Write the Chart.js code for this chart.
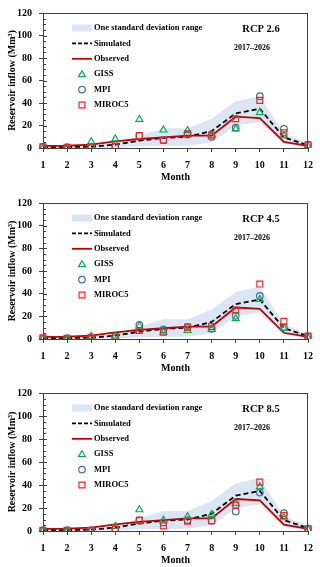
<!DOCTYPE html>
<html>
<head>
<meta charset="utf-8">
<script src="https://cdn.jsdelivr.net/npm/chart.js@4/dist/chart.umd.min.js"></script>
<style>
  body { margin: 0; background: #fff; width: 320px; height: 567px; position: relative; overflow: hidden; }
  canvas { position: absolute; left: 0; }
</style>
</head>
<body>
<canvas id="c1" width="320" height="190" style="top:0"></canvas>
<canvas id="c2" width="320" height="190" style="top:190px"></canvas>
<canvas id="c3" width="320" height="187" style="top:380px"></canvas>
<script>
// months on the x axis
const months = ['1', '2', '3', '4', '5', '6', '7', '8', '9', '10', '11', '12'];

// historical reference (same in every panel)
const bandUpper = [1.5, 1.5, 2, 4, 11, 17.5, 17.5, 26, 41.5, 46, 13, 4.5];
const bandLower = [0, 0, 0, 0.5, 1.5, 2, 2, 5, 20, 23, 4, 1];
const simulated = [0.8, 0.8, 1.2, 3, 6.5, 9, 10, 15, 30.8, 34.8, 9.5, 2.5];
const observed = [1.8, 2, 3, 5.8, 8, 9.5, 11, 11, 27.8, 26.6, 5.5, 1.8];

// RCP 2.6
const giss26 = [0, 0, 5.5, 8, 25.5, 16, 15.5, 11.5, 17, 31.5, 11, 1.5];
const mpi26 = [1, 0.5, 0.5, 1, 11, 7, 12, 10, 18, 46, 17, 3];
const miroc26 = [1, 0.5, 1, 1.7, 11, 7, 12.5, 11.5, 26, 42.3, 13.5, 2.5];

// RCP 4.5
const giss45 = [0, 0, 2.3, 2.5, 11.5, 6, 7.5, 8.5, 18, 35, 9.5, 1];
const mpi45 = [0.5, 0.5, 1, 2.5, 12.5, 8.5, 10.5, 9, 20.5, 38, 10.5, 2];
const miroc45 = [1, 0.5, 1.5, 2, 7.5, 6, 10.5, 11, 25.5, 48.5, 15.5, 2.5];

// RCP 8.5
const giss85 = [0, 0, 0.5, 4, 18.5, 9.5, 12.5, 14.5, 24, 38.5, 12, 1.5];
const mpi85 = [0.5, 0.5, 0.5, 1.5, 9, 7.5, 9.5, 9, 17, 33.5, 15.5, 2];
const miroc85 = [0.5, 0.5, 0.5, 1.5, 9.5, 4.5, 8.5, 9, 22.5, 42.5, 13.5, 2];

const scenarioNames = ['RCP 2.6', 'RCP 4.5', 'RCP 8.5'];
const periodText = '2017\u20132026';
const legendLabels = ['One standard deviation range', 'Simulated', 'Observed', 'GISS', 'MPI', 'MIROC5'];

const SERIF = '"Liberation Serif", "Times New Roman", serif';
const BAND = '#dae6f4';
const GREEN = '#00b050';
const BLUE = '#41719c';
const RED = '#ff2020';
const DARKRED = '#c00000';
const AXIS = '#404040';

Chart.defaults.font.family = SERIF;
Chart.defaults.font.weight = 'bold';
Chart.defaults.font.size = 10;
Chart.defaults.color = '#000';

function marker(ctx, style, x, y, r) {
  ctx.beginPath();
  if (style === 'triangle') {
    ctx.moveTo(x, y - r);
    ctx.lineTo(x + r * 0.866, y + r / 2);
    ctx.lineTo(x - r * 0.866, y + r / 2);
    ctx.closePath();
  } else if (style === 'circle') {
    ctx.arc(x, y, r, 0, Math.PI * 2);
  } else {
    const s = r * Math.SQRT1_2;
    ctx.rect(x - s, y - s, 2 * s, 2 * s);
  }
  ctx.stroke();
}

// frame, inner ticks, legend and the scenario labels
const decorations = {
  id: 'decorations',
  afterDraw(chart, args, opts) {
    const { ctx, chartArea: a, scales: { y } } = chart;
    ctx.save();
    ctx.strokeStyle = AXIS;
    ctx.lineWidth = 1;
    ctx.beginPath();
    ctx.moveTo(a.left, a.top + 0.5); ctx.lineTo(a.right, a.top + 0.5);
    ctx.moveTo(a.right - 0.5, a.top); ctx.lineTo(a.right - 0.5, a.bottom);
    for (let v = 0; v <= 120; v += 5) {
      const py = Math.round(y.getPixelForValue(v)) + 0.5;
      ctx.moveTo(a.left, py); ctx.lineTo(a.left + (v % 20 ? 3 : 4), py);
    }
    ctx.stroke();

    // legend
    const x0 = a.left + 29, x1 = a.left + 49, tx = a.left + 51;
    const rowY = i => a.top + 15 + i * 15.4;
    ctx.fillStyle = BAND;
    ctx.fillRect(x0, rowY(0) - 3.5, 20, 7);
    ctx.lineWidth = 1.8;
    ctx.strokeStyle = '#000';
    ctx.setLineDash([4, 2]);
    ctx.beginPath(); ctx.moveTo(x0, rowY(1)); ctx.lineTo(x1, rowY(1)); ctx.stroke();
    ctx.setLineDash([]);
    ctx.strokeStyle = DARKRED;
    ctx.beginPath(); ctx.moveTo(x0, rowY(2)); ctx.lineTo(x1, rowY(2)); ctx.stroke();
    ctx.lineWidth = 1.2;
    ctx.strokeStyle = GREEN; marker(ctx, 'triangle', a.left + 39, rowY(3) + 0.5, 4);
    ctx.strokeStyle = BLUE; marker(ctx, 'circle', a.left + 39, rowY(4), 3.3);
    ctx.strokeStyle = RED; marker(ctx, 'rect', a.left + 39, rowY(5), 4.2);

    ctx.fillStyle = '#000';
    ctx.font = 'bold 8.5px ' + SERIF;
    ctx.textBaseline = 'middle';
    ctx.textAlign = 'left';
    legendLabels.forEach((t, i) => ctx.fillText(t, tx, rowY(i)));

    ctx.textAlign = 'center';
    ctx.font = 'bold 10.5px ' + SERIF;
    ctx.fillText(opts.scenario, a.right - 47, a.top + 16);
    ctx.font = 'bold 8px ' + SERIF;
    ctx.fillText(periodText, a.right - 56, a.top + 35);
    ctx.restore();
  }
};

function makeChart(id, scenario, giss, mpi, miroc, padTop, padBottom) {
  const pts = (label, data, style, r, color, order) => ({
    label, data, showLine: false, pointStyle: style, pointRadius: r,
    pointBorderWidth: 1.2, borderColor: color, backgroundColor: 'rgba(0,0,0,0)', order
  });
  return new Chart(document.getElementById(id), {
    type: 'line',
    data: {
      labels: months,
      datasets: [
        pts('GISS', giss, 'triangle', 4, GREEN, 1),
        pts('MPI', mpi, 'circle', 3.3, BLUE, 2),
        pts('MIROC5', miroc, 'rect', 4.2, RED, 0),
        { label: 'Simulated', data: simulated, borderColor: '#000', borderDash: [5, 3], borderWidth: 1.8, pointRadius: 0, order: 5 },
        { label: 'Observed', data: observed, borderColor: DARKRED, borderWidth: 1.8, pointRadius: 0, order: 4 },
        { label: 'upper', data: bandUpper, borderColor: 'rgba(0,0,0,0)', pointRadius: 0, fill: '+1', backgroundColor: BAND, order: 6 },
        { label: 'lower', data: bandLower, borderColor: 'rgba(0,0,0,0)', pointRadius: 0, fill: false, order: 7 }
      ]
    },
    options: {
      responsive: false,
      animation: false,
      layout: { padding: { top: padTop, bottom: padBottom, left: 0, right: 9 } },
      plugins: {
        legend: { display: false },
        tooltip: { enabled: false },
        decorations: { scenario }
      },
      scales: {
        x: {
          offset: false,
          grid: { drawOnChartArea: false, tickLength: 4, color: AXIS },
          border: { color: AXIS },
          ticks: { padding: 7, maxRotation: 0, autoSkip: false },
          title: { display: true, text: 'Month', padding: { top: 0, bottom: 1 } },
          afterFit: s => { s.height = 36; }
        },
        y: {
          min: 0, max: 120,
          grid: { drawOnChartArea: false, tickLength: 4, color: AXIS },
          border: { color: AXIS },
          ticks: { stepSize: 20, padding: 7 },
          title: { display: true, text: 'Reservoir inflow (Mm\u00b3)', padding: { top: 6, bottom: 0 } },
          afterFit: s => { s.width = 43; }
        }
      }
    },
    plugins: [decorations]
  });
}

makeChart('c1', scenarioNames[0], giss26, mpi26, miroc26, 9, 6);
makeChart('c2', scenarioNames[1], giss45, mpi45, miroc45, 10, 5);
makeChart('c3', scenarioNames[2], giss85, mpi85, miroc85, 13, 0);
</script>
</body>
</html>
